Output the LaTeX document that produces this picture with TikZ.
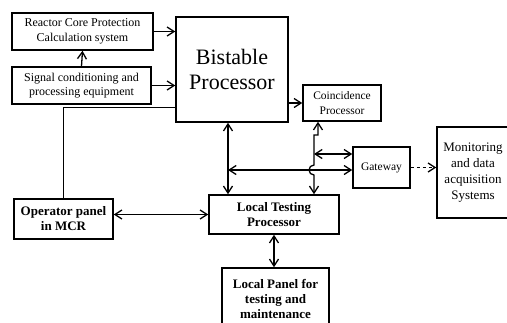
\documentclass[tikz,border=0pt]{standalone}
\usepackage{fontspec}
\setmainfont{Liberation Serif}
\usetikzlibrary{arrows.meta}

\begin{document}
\begin{tikzpicture}[x=1pt,y=-1pt,line width=1.3pt,>={Straight Barb[length=7pt,width=9pt]},
        small/.style={font=\fontsize{12}{14.5}\selectfont},
        tiny/.style={font=\fontsize{11.5}{15}\selectfont},
        heavy/.style={font=\bfseries\fontsize{13}{15}\selectfont}]
            \useasboundingbox (0,0) rectangle (507,322);
            \begin{scope}[every node/.style={draw,rectangle,line width=1.5pt,inner sep=0pt,align=center}]
                \node[small,minimum width=141pt,minimum height=37pt] (rcp) at (82.5,31.5) {Reactor Core Protection\\Calculation system};
                \node[small,minimum width=139pt,minimum height=37pt] (sig) at (81.5,85.5) {Signal conditioning and\\processing equipment};
                \node[font=\fontsize{22}{25}\selectfont,minimum width=112pt,minimum height=105pt] (bist) at (232,69.5) {Bistable\\Processor};
                \node[tiny,minimum width=78pt,minimum height=36pt] (coin) at (342,103) {Coincidence\\Processor};
                \node[tiny,minimum width=57pt,minimum height=41pt] (gate) at (381.5,167.5) {Gateway};
                \node[font=\fontsize{13}{16}\selectfont,minimum width=72pt,minimum height=91pt] (mon) at (473,172.5) {Monitoring\\and data\\acquisition\\Systems};
                \node[heavy,minimum width=99pt,minimum height=40pt] (oper) at (63.5,219) {Operator panel\\in MCR};
                \node[heavy,minimum width=130pt,minimum height=39pt] (ltp) at (274,214.5) {Local Testing\\Processor};
                \node[heavy,minimum width=107pt,minimum height=62pt] (lpan) at (275.5,299) {Local Panel for\\testing and\\maintenance};
            \end{scope}
            \coordinate (j1) at (228,170);
            \coordinate (jog) at (318,135);
            \coordinate (tap) at (314,154);
            \draw[->] (sig.north) -- (rcp.south);
            \draw[->] (rcp.east) -- (rcp.east -| bist.west);
            \draw[->] (sig.east) -- (sig.east -| bist.west);
            \draw[->] (coin.west -| bist.east) -- (coin.west);
            \draw (oper.north) |- ([yshift=15pt]bist.south west);
            \draw[<->] (bist.south -| j1) -- (ltp.north -| j1);
            \draw[<->] (j1) -- (j1 -| gate.west);
            \draw[<->] (coin.south -| jog) -- (jog) -- (jog -| tap) -- (314,165)
                arc[start angle=90,end angle=270,radius=5pt] -- (ltp.north -| tap);
            \draw[<->] (tap) -- (tap -| gate.west);
            \draw[->,dashed] (gate.east) -- (gate.east -| mon.west);
            \draw[<->] (ltp.west -| oper.east) -- (ltp.west);
            \draw[<->] (ltp.south) -- (ltp.south |- lpan.north);
        \end{tikzpicture}
\end{document}
